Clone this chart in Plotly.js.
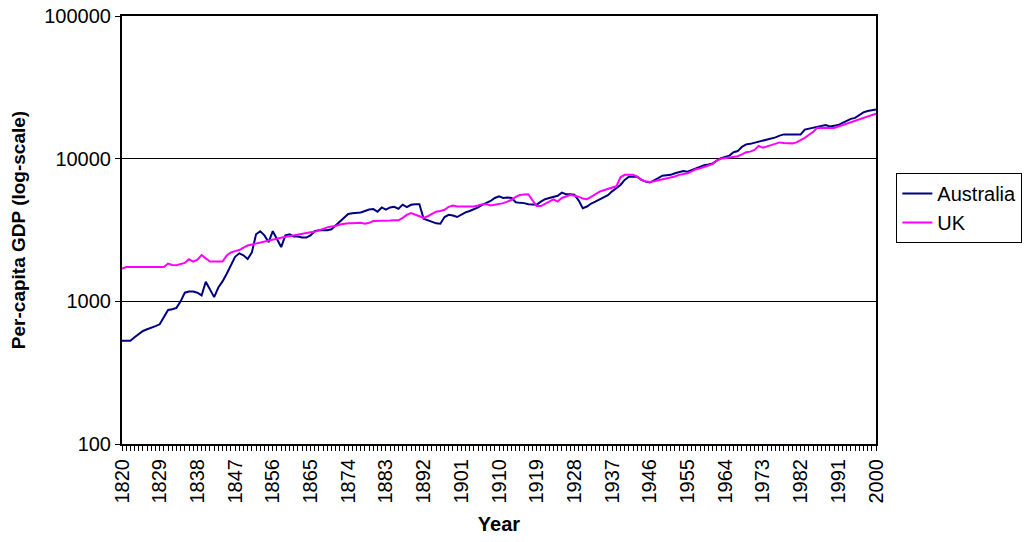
<!DOCTYPE html>
<html>
<head>
<meta charset="utf-8">
<script src="https://cdn.plot.ly/plotly-3.0.1.min.js"></script>
<style>
  html, body { margin: 0; padding: 0; background: #fff; }
  #chart { width: 1034px; height: 542px; }
</style>
</head>
<body>
<div id="chart"></div>
<script>
// Years 1820..2000
const startYear = 1820;
const australia = [
  530, 530, 530, 560, 590, 620, 637, 650, 670, 690,      // 1820-1829
  780, 870, 880, 900, 1000, 1150, 1170, 1170, 1150, 1100, // 1830-1839
  1370, 1200, 1070, 1250, 1380, 1560, 1800, 2050, 2170, 2100, // 1840-1849
  1980, 2200, 2950, 3100, 2900, 2600, 3100, 2700, 2400, 2900, // 1850-1859
  2950, 2850, 2850, 2800, 2800, 2900, 3100, 3150, 3150, 3150, // 1860-1869
  3200, 3400, 3600, 3850, 4100, 4150, 4150, 4200, 4300, 4400, // 1870-1879
  4430, 4250, 4550, 4400, 4550, 4600, 4450, 4760, 4570, 4750, // 1880-1889
  4800, 4800, 3800, 3700, 3600, 3520, 3500, 3900, 4040, 4000, // 1890-1899
  3900, 4050, 4200, 4300, 4400, 4550, 4750, 4900, 5050, 5300, // 1900-1909
  5450, 5300, 5350, 5300, 4950, 4900, 4880, 4800, 4760, 4760, // 1910-1919
  5000, 5200, 5300, 5400, 5500, 5780, 5630, 5630, 5600, 5100, // 1920-1929
  4500, 4620, 4850, 5000, 5200, 5400, 5550, 5900, 6200, 6540, // 1930-1939
  7100, 7480, 7480, 7480, 7100, 6900, 6800, 7000, 7300, 7600, // 1940-1949
  7650, 7700, 7900, 8100, 8200, 8100, 8300, 8500, 8800, 9000, // 1950-1959
  9100, 9250, 9700, 10100, 10300, 10500, 11100, 11300, 12100, 12600, // 1960-1969
  12700, 12900, 13100, 13400, 13650, 13800, 14100, 14500, 14800, 14800, // 1970-1979
  14800, 14800, 14800, 16000, 16200, 16400, 16750, 17000, 17200, 16800, // 1980-1989
  16900, 17200, 17800, 18400, 19000, 19300, 20200, 21100, 21600, 21900, // 1990-1999
  22100 // 2000
];
const uk = [
  1700, 1740, 1740, 1740, 1740, 1740, 1740, 1740, 1740, 1740, // 1820-1829
  1740, 1840, 1800, 1790, 1820, 1860, 1970, 1900, 1960, 2110, // 1830-1839
  2000, 1900, 1900, 1900, 1900, 2100, 2200, 2250, 2290, 2380, // 1840-1849
  2460, 2500, 2540, 2580, 2620, 2680, 2720, 2760, 2800, 2840, // 1850-1859
  2860, 2900, 2950, 3000, 3020, 3050, 3070, 3150, 3250, 3300, // 1860-1869
  3350, 3370, 3450, 3500, 3520, 3530, 3550, 3550, 3500, 3550, // 1870-1879
  3650, 3650, 3650, 3650, 3680, 3700, 3700, 3850, 4040, 4150, // 1880-1889
  4050, 3950, 3850, 3950, 4100, 4250, 4300, 4380, 4600, 4700, // 1890-1899
  4620, 4620, 4620, 4620, 4620, 4700, 4800, 4800, 4700, 4750, // 1900-1909
  4800, 4880, 5000, 5150, 5400, 5560, 5600, 5630, 5100, 4650, // 1910-1919
  4650, 4800, 5000, 5190, 5000, 5300, 5450, 5560, 5500, 5420, // 1920-1929
  5250, 5200, 5400, 5650, 5880, 6000, 6130, 6250, 6400, 7400, // 1930-1939
  7700, 7700, 7700, 7480, 7100, 6950, 6870, 6950, 7050, 7150, // 1940-1949
  7250, 7330, 7500, 7700, 7800, 7900, 8150, 8430, 8550, 8700, // 1950-1959
  8950, 9200, 9700, 10000, 10100, 10100, 10200, 10400, 10700, 11100, // 1960-1969
  11200, 11500, 12300, 11950, 12200, 12450, 12600, 13000, 12900, 12800, // 1970-1979
  12800, 13000, 13450, 14000, 14700, 15400, 16500, 16500, 16500, 16400, // 1980-1989
  16400, 16800, 17200, 17600, 18000, 18300, 18800, 19300, 19800, 20300, // 1990-1999
  20700 // 2000
];
const yTickVals = [100, 1000, 10000, 100000];
const yTickText = ["100", "1000", "10000", "100000"];
const seriesNames = ["Australia", "UK"];

const years = australia.map((_, i) => startYear + i);

const font = "Liberation Sans, Arial, sans-serif";

const traces = [
  { x: years, y: australia, name: seriesNames[0], type: "scatter", mode: "lines",
    line: { color: "#000080", width: 2 } },
  { x: years, y: uk, name: seriesNames[1], type: "scatter", mode: "lines",
    line: { color: "#FF00FF", width: 2 } }
];

const layout = {
  width: 1034, height: 542,
  margin: { l: 122, r: 155, t: 16, b: 98 },
  paper_bgcolor: "#fff", plot_bgcolor: "#fff",
  font: { family: font, size: 20, color: "#000" },
  showlegend: true,
  legend: {
    x: 1.027, y: 0.633, xanchor: "left", yanchor: "top",
    bordercolor: "#000", borderwidth: 1, bgcolor: "#fff",
    font: { family: font, size: 20, color: "#000" },
    tracegroupgap: 4
  },
  xaxis: {
    range: [1820, 2000],
    tickmode: "linear", tick0: 1820, dtick: 9,
    tickangle: -90,
    ticks: "outside", ticklen: 5, tickwidth: 1, tickcolor: "#000",
    minor: { dtick: 1, ticks: "outside", ticklen: 5, tickwidth: 1, tickcolor: "#000", showgrid: false },
    showgrid: false, zeroline: false,
    showline: true, linecolor: "#000", linewidth: 2, mirror: true,
    tickfont: { family: font, size: 20 },
    title: { text: "<b>Year</b>", font: { family: font, size: 20 }, standoff: 14 }
  },
  yaxis: {
    type: "log", range: [2, 5],
    tickmode: "array", tickvals: yTickVals, ticktext: yTickText,
    ticks: "outside", ticklen: 5, tickcolor: "#000",
    showgrid: true, gridcolor: "#000", gridwidth: 1,
    zeroline: false,
    showline: true, linecolor: "#000", linewidth: 2, mirror: true,
    tickfont: { family: font, size: 20 },
    title: { text: "<b>Per-capita GDP (log-scale)</b>", font: { family: font, size: 19 }, standoff: 14 }
  }
};

Plotly.newPlot("chart", traces, layout, { displayModeBar: false, staticPlot: true });
</script>
</body>
</html>
